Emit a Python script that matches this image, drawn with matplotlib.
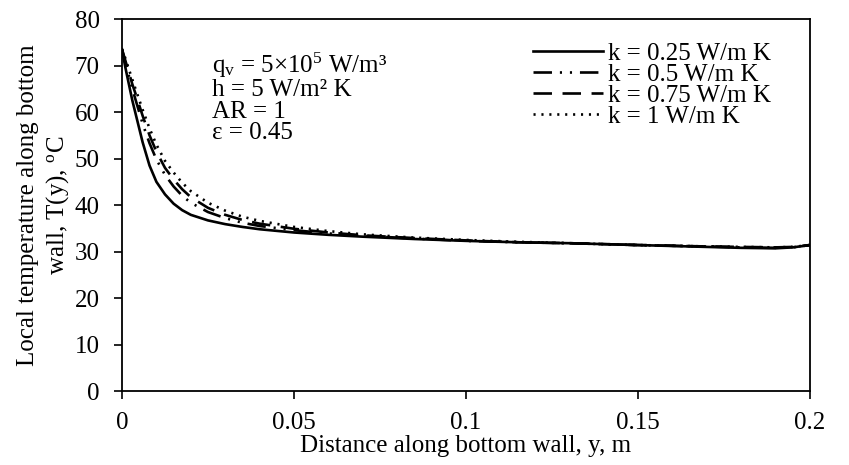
import numpy as np
import matplotlib.pyplot as plt

plt.rcParams['font.family'] = ['Liberation Serif', 'DejaVu Serif']
plt.rcParams['mathtext.fontset'] = 'custom'
plt.rcParams['mathtext.rm'] = 'Liberation Serif'
plt.rcParams['mathtext.it'] = 'Liberation Serif:italic'

# distance along bottom wall, m
y_pos = [0, 0.001, 0.002, 0.003, 0.004, 0.006, 0.008, 0.01, 0.0125, 0.015, 0.0175, 0.02,
         0.025, 0.03, 0.035, 0.04, 0.05, 0.06, 0.07, 0.085, 0.1, 0.115, 0.13, 0.15,
         0.17, 0.18, 0.19, 0.195, 0.2]

# local temperature, deg C
T_k025 = [73.5, 69.5, 66.0, 62.5, 59.5, 53.5, 48.5, 45.0, 42.3, 40.3, 38.9, 37.9,
          36.7, 35.9, 35.3, 34.8, 34.1, 33.6, 33.2, 32.7, 32.3, 32.0, 31.8, 31.4,
          31.0, 30.8, 30.7, 30.9, 31.4]
T_k05 = [73.5, 70.5, 67.8, 65.0, 62.5, 57.5, 53.3, 49.8, 46.5, 44.0, 42.0, 40.5,
         38.5, 37.2, 36.2, 35.5, 34.6, 33.9, 33.4, 32.8, 32.3, 32.0, 31.8, 31.4,
         31.1, 30.9, 30.8, 30.9, 31.4]
T_k075 = [73.5, 71.0, 68.5, 66.0, 63.8, 59.2, 55.0, 51.5, 48.0, 45.5, 43.4, 41.7,
          39.4, 37.9, 36.8, 36.0, 34.9, 34.1, 33.5, 32.9, 32.4, 32.0, 31.8, 31.4,
          31.1, 31.0, 30.9, 31.0, 31.4]
T_k1 = [73.5, 71.5, 69.2, 67.0, 64.8, 60.5, 56.5, 53.0, 49.5, 47.0, 44.8, 43.0,
        40.5, 38.8, 37.5, 36.6, 35.3, 34.4, 33.7, 33.0, 32.5, 32.1, 31.8, 31.4,
        31.1, 31.0, 30.9, 31.0, 31.4]

labels = ['k = 0.25 W/m K', 'k = 0.5 W/m K', 'k = 0.75 W/m K', 'k = 1 W/m K']

fig = plt.figure(figsize=(8.49, 4.65), dpi=100)
ax = fig.add_axes([0.1437, 0.159, 0.8103, 0.800])

ax.plot(y_pos, T_k025, color='black', lw=1.9, ls='-', label=labels[0])
ax.plot(y_pos, T_k05, color='black', lw=1.9, ls=(0, (7, 3, 0.8, 3, 0.8, 3)), label=labels[1])
ax.plot(y_pos, T_k075, color='black', lw=1.9, ls=(0, (7, 4)), label=labels[2])
ax.plot(y_pos, T_k1, color='black', lw=1.9, ls=(0, (0.8, 2.2)), label=labels[3])

ax.set_xlim(0, 0.2)
ax.set_ylim(0, 80)
ax.set_xticks([0, 0.05, 0.1, 0.15, 0.2])
ax.set_xticklabels(['0', '0.05', '0.1', '0.15', '0.2'])
ax.set_yticks(range(0, 81, 10))
ax.tick_params(labelsize=18, direction='out', length=6, width=1.2)
ax.tick_params(axis='x', pad=9)
ax.tick_params(axis='y', pad=10)
for s in ax.spines.values():
    s.set_linewidth(1.3)

ax.set_xlabel('Distance along bottom wall, y, m', fontsize=18, labelpad=1)
ax.set_ylabel('Local temperature along bottom\nwall, T(y), $^{\\rm o}$C', fontsize=18,
              labelpad=3, linespacing=1.25)

ax.text(0.131, 0.79, '$\\mathrm{q_v}$ = 5×10$^5$ W/m³\nh = 5 W/m² K\nAR = 1\nε = 0.45',
        transform=ax.transAxes, fontsize=18, va='center', ha='left', linespacing=0.97)

ax.legend(loc='upper left', bbox_to_anchor=(0.597, 0.937), frameon=False, fontsize=18,
          handlelength=2.8, handletextpad=0.2, labelspacing=-0.06, borderaxespad=0,
          borderpad=0)

fig.savefig('out.png', dpi=100)
